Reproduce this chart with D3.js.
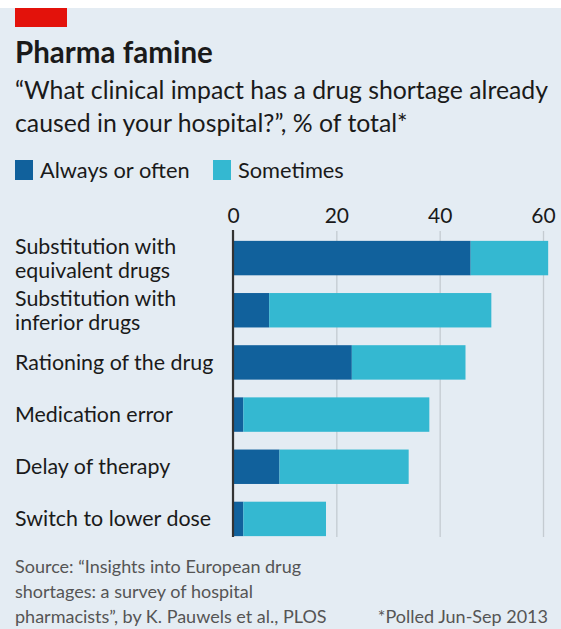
<!DOCTYPE html>
<html>
<head>
<meta charset="utf-8">
<script src="https://cdn.jsdelivr.net/npm/d3@7"></script>
<style>
	body { margin: 0; background: #fff; }
	.c-svg { width: 561px; height: 629px; }
	text { font-family: Lato, "Open Sans", sans-serif; fill: #1a1a1a; }
</style>
</head>
<body>
<div class="c-svg"></div>
<script>
//DATA
//-------------------------------------------------------------------------
const categories = [
	["Substitution with", "equivalent drugs"],
	["Substitution with", "inferior drugs"],
	["Rationing of the drug"],
	["Medication error"],
	["Delay of therapy"],
	["Switch to lower dose"]
];
const alwaysOften = [46, 7, 23, 2, 9, 2];
const sometimes = [15, 43, 22, 36, 25, 16];
const seriesNames = ["Always or often", "Sometimes"];
const tickValues = [0, 20, 40, 60];

//opts
const opts = {
	width: 561,
	height: 629,
	bg: "#e4ecf3",
	colors: ["#11619c", "#34b8d1"]
};

const svg = d3.select(".c-svg")
	.append("svg")
	.attr("width", opts.width)
	.attr("height", opts.height);

//background + top strip
svg.append("rect")
	.attr("x", 0).attr("y", 8)
	.attr("width", opts.width).attr("height", opts.height - 8)
	.style("fill", opts.bg);

svg.append("rect")
	.attr("x", 15).attr("y", 8)
	.attr("width", 52).attr("height", 19)
	.style("fill", "#e3120b");

//HEADER
//-------------------------------------------------------------------------
svg.append("text")
	.attr("x", 15).attr("y", 63)
	.style("font-size", "29.5px")
	.style("font-weight", 700)
	.text("Pharma famine");

svg.selectAll(".subtitle")
	.data(["\u201CWhat clinical impact has a drug shortage already", "caused in your hospital?\u201D, % of total*"])
	.join("text")
	.attr("class", "subtitle")
	.attr("x", 15)
	.attr("y", (d, i) => 99 + i * 33)
	.style("font-size", "24.8px")
	.text(d => d);

//legend
const legend = svg.append("g").attr("transform", "translate(15 160)");
const legendX = [0, 198];
legend.selectAll("rect")
	.data(seriesNames)
	.join("rect")
	.attr("x", (d, i) => legendX[i])
	.attr("y", 0)
	.attr("width", 18).attr("height", 20)
	.style("fill", (d, i) => opts.colors[i]);
legend.selectAll("text")
	.data(seriesNames)
	.join("text")
	.attr("x", (d, i) => legendX[i] + 25)
	.attr("y", 18)
	.style("font-size", "21.8px")
	.text(d => d);

//CHART
//-------------------------------------------------------------------------
const x = d3.scaleLinear().domain([0, 60]).range([233, 543]);
const y = d3.scaleBand()
	.domain(d3.range(categories.length))
	.range([232, 545])
	.paddingInner(0.34)
	.paddingOuter(0.17);

//gridlines + tick labels
const axis = svg.append("g")
	.attr("transform", "translate(0 231)")
	.call(d3.axisTop(x).tickValues(tickValues).tickSize(-(537 - 231)).tickPadding(8));
axis.select(".domain").remove();
axis.selectAll(".tick line").style("stroke", "#c4cbd1").style("stroke-width", 1.3);
axis.selectAll(".tick text")
	.style("font-size", "21px")
	.style("font-family", "Lato, sans-serif")
	.style("fill", "#1a1a1a");

//stacked bars
const rows = categories.map((c, i) => ({ i: i, a: alwaysOften[i], s: sometimes[i] }));
const bars = svg.append("g");
bars.selectAll(".bar-a")
	.data(rows)
	.join("rect")
	.attr("class", "bar-a")
	.attr("x", x(0))
	.attr("y", d => y(d.i))
	.attr("width", d => x(d.a) - x(0))
	.attr("height", y.bandwidth())
	.style("fill", opts.colors[0]);
bars.selectAll(".bar-s")
	.data(rows)
	.join("rect")
	.attr("class", "bar-s")
	.attr("x", d => x(d.a))
	.attr("y", d => y(d.i))
	.attr("width", d => x(d.a + d.s) - x(d.a))
	.attr("height", y.bandwidth())
	.style("fill", opts.colors[1]);

//zero line
svg.append("line")
	.attr("x1", x(0)).attr("x2", x(0))
	.attr("y1", 230).attr("y2", 537)
	.style("stroke", "#333")
	.style("stroke-width", 2.2);

//category labels
const labels = svg.append("g");
categories.forEach((lines, i) => {
	const cy = y(i) + y.bandwidth() / 2;
	const lh = 24;
	lines.forEach((t, j) => {
		labels.append("text")
			.attr("x", 15)
			.attr("y", cy + (j - (lines.length - 1) / 2) * lh)
			.attr("dy", "0.35em")
			.style("font-size", "21.4px")
			.text(t);
	});
});

//FOOTER
//-------------------------------------------------------------------------
const source = [
	"Source: \u201CInsights into European drug",
	"shortages: a survey of hospital",
	"pharmacists\u201D, by K. Pauwels et al., PLOS"
];
svg.selectAll(".source")
	.data(source)
	.join("text")
	.attr("class", "source")
	.attr("x", 15)
	.attr("y", (d, i) => 573 + i * 25)
	.style("font-size", "18px")
	.style("fill", "#555")
	.text(d => d);

svg.append("text")
	.attr("x", 548).attr("y", 623)
	.attr("text-anchor", "end")
	.style("font-size", "18px")
	.style("fill", "#555")
	.text("*Polled Jun-Sep 2013");
</script>
</body>
</html>
